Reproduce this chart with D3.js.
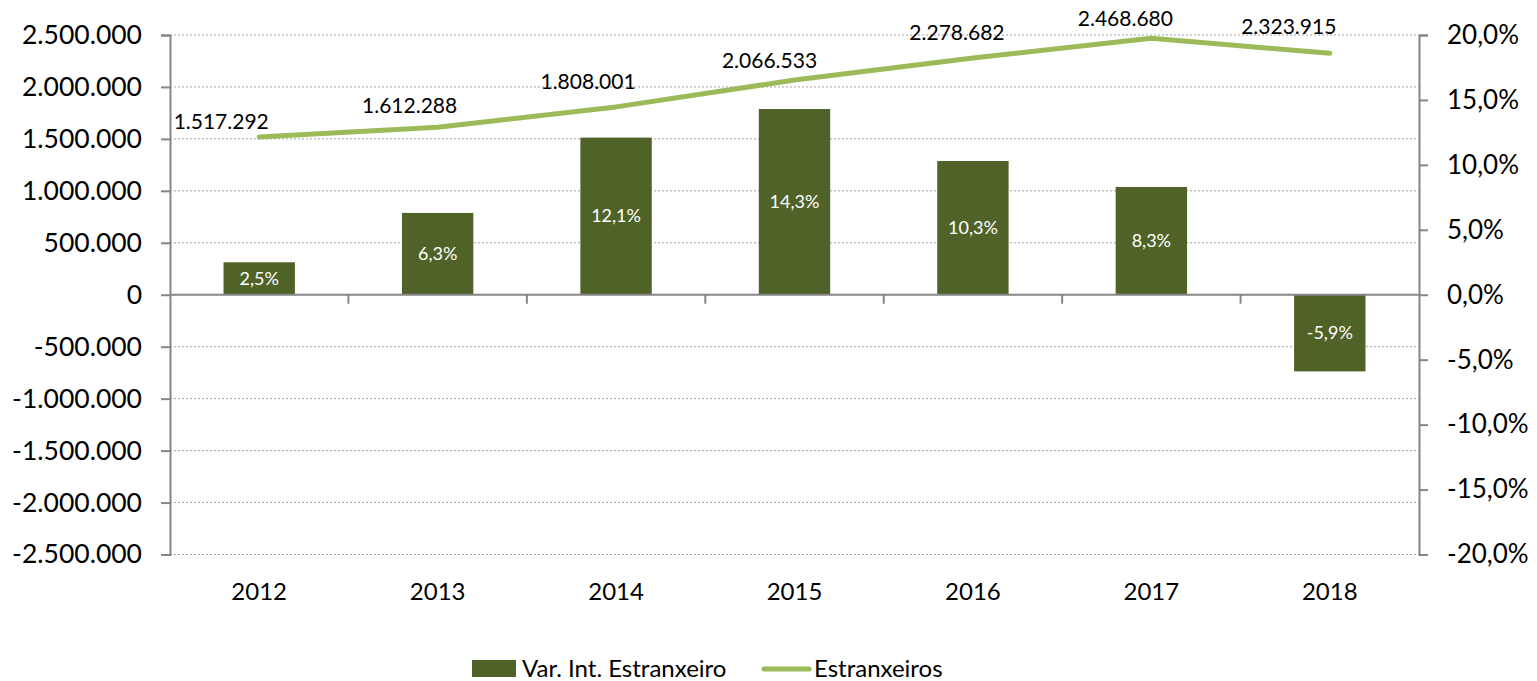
<!DOCTYPE html>
<html>
<head>
<meta charset="utf-8">
<script src="https://cdn.jsdelivr.net/npm/d3@7"></script>
<style>
  html, body { margin: 0; padding: 0; background: #fff; }
  svg { display: block; font-family: Lato, "Open Sans", sans-serif; }
</style>
</head>
<body>
<svg id="chart" width="1537" height="681"></svg>
<script>
// ---- data ----
const years = ["2012", "2013", "2014", "2015", "2016", "2017", "2018"];
const varIntEstranxeiro = [2.5, 6.3, 12.1, 14.3, 10.3, 8.3, -5.9];   // % (right axis)
const estranxeiros = [1517292, 1612288, 1808001, 2066533, 2278682, 2468680, 2323915]; // left axis
const leftTicks = [-2500000, -2000000, -1500000, -1000000, -500000, 0, 500000, 1000000, 1500000, 2000000, 2500000];
const rightTicks = [-20, -15, -10, -5, 0, 5, 10, 15, 20];
const seriesNames = ["Var. Int. Estranxeiro", "Estranxeiros"];

// ---- layout (label nudges, px) ----
const lineLabelDx = [-38, -28, -28, -25, -16, -26, -41];
const lineLabelDy = [8, 14, 18, 12, 18, 12, 19];

const barColor = "#4F6228";
const lineColor = "#9BBB59";
const axisColor = "#868686";
const gridColor = "#A0A0A0";

const loc = d3.formatLocale({ decimal: ",", thousands: ".", grouping: [3], currency: ["", "€"], minus: "-" });
const fmtInt = loc.format(",d");
const fmtPct = v => loc.format(".1f")(v) + "%";

const svg = d3.select("#chart");
const L = 170, R = 1419, T = 35, B = 554.5;

const x = d3.scaleBand().domain(years).range([L, R]).padding(0);
const yL = d3.scaleLinear().domain([-2500000, 2500000]).range([B, T]);
const yR = d3.scaleLinear().domain([-20, 20]).range([B, T]);

// gridlines
svg.append("g").selectAll("line").data(leftTicks.filter(d => d !== 0)).join("line")
  .attr("x1", L).attr("x2", R)
  .attr("y1", d => yL(d)).attr("y2", d => yL(d))
  .attr("stroke", gridColor).attr("stroke-width", 1).attr("stroke-dasharray", "2,2");

// bars
const bw = x.bandwidth() * 0.4;
svg.append("g").selectAll("rect").data(years).join("rect")
  .attr("x", d => x(d) + (x.bandwidth() - bw) / 2)
  .attr("width", bw)
  .attr("y", (d, i) => Math.min(yR(varIntEstranxeiro[i]), yR(0)))
  .attr("height", (d, i) => Math.abs(yR(varIntEstranxeiro[i]) - yR(0)))
  .attr("fill", barColor);

// bar labels
svg.append("g").selectAll("text").data(years).join("text")
  .attr("x", d => x(d) + x.bandwidth() / 2)
  .attr("y", (d, i) => (yR(varIntEstranxeiro[i]) + yR(0)) / 2)
  .attr("dy", "0.35em")
  .attr("text-anchor", "middle")
  .attr("fill", "#fff")
  .attr("font-size", 18)
  .text((d, i) => fmtPct(varIntEstranxeiro[i]));

// zero line (category axis) + category ticks
svg.append("line").attr("x1", L).attr("x2", R).attr("y1", yL(0)).attr("y2", yL(0))
  .attr("stroke", axisColor).attr("stroke-width", 2);
svg.append("g").selectAll("line").data(years.slice(1)).join("line")
  .attr("x1", d => x(d)).attr("x2", d => x(d))
  .attr("y1", yL(0)).attr("y2", yL(0) + 9)
  .attr("stroke", axisColor).attr("stroke-width", 2);

// left axis
const gL = svg.append("g").attr("transform", `translate(${L},0)`)
  .call(d3.axisLeft(yL).tickValues(leftTicks).tickFormat(fmtInt).tickSize(9).tickPadding(19));
gL.select(".domain").attr("stroke", axisColor).attr("stroke-width", 2);
gL.selectAll(".tick line").attr("stroke", axisColor).attr("stroke-width", 2);
gL.selectAll(".tick text").attr("font-size", 26.5).attr("fill", "#000").attr("font-family", "Lato, sans-serif");

// right axis
const gR = svg.append("g").attr("transform", `translate(${R},0)`)
  .call(d3.axisRight(yR).tickValues(rightTicks).tickFormat(fmtPct).tickSize(9).tickPadding(19));
gR.select(".domain").attr("stroke", axisColor).attr("stroke-width", 2);
gR.selectAll(".tick line").attr("stroke", axisColor).attr("stroke-width", 2);
gR.selectAll(".tick text").attr("font-size", 26).attr("fill", "#000").attr("font-family", "Lato, sans-serif");

// x labels
svg.append("g").selectAll("text").data(years).join("text")
  .attr("x", d => x(d) + x.bandwidth() / 2)
  .attr("y", 600)
  .attr("text-anchor", "middle")
  .attr("font-size", 24)
  .attr("fill", "#000")
  .text(d => d);

// line
const line = d3.line()
  .x((d, i) => x(years[i]) + x.bandwidth() / 2)
  .y(d => yL(d));
svg.append("path").datum(estranxeiros)
  .attr("d", line)
  .attr("fill", "none")
  .attr("stroke", lineColor)
  .attr("stroke-width", 5)
  .attr("stroke-linecap", "round")
  .attr("stroke-linejoin", "round");

// line labels
svg.append("g").selectAll("text").data(estranxeiros).join("text")
  .attr("x", (d, i) => x(years[i]) + x.bandwidth() / 2 + lineLabelDx[i])
  .attr("y", (d, i) => yL(d) - lineLabelDy[i])
  .attr("text-anchor", "middle")
  .attr("font-size", 21)
  .attr("fill", "#000")
  .text(d => fmtInt(d));

// legend
const lg = svg.append("g");
lg.append("rect").attr("x", 472).attr("y", 660).attr("width", 44).attr("height", 17).attr("fill", barColor);
lg.append("text").attr("x", 522).attr("y", 677).attr("font-size", 24).attr("fill", "#000").text(seriesNames[0]);
lg.append("line").attr("x1", 764).attr("x2", 809).attr("y1", 669).attr("y2", 669)
  .attr("stroke", lineColor).attr("stroke-width", 5).attr("stroke-linecap", "round");
lg.append("text").attr("x", 814).attr("y", 677).attr("font-size", 24).attr("fill", "#000").text(seriesNames[1]);
</script>
</body>
</html>
